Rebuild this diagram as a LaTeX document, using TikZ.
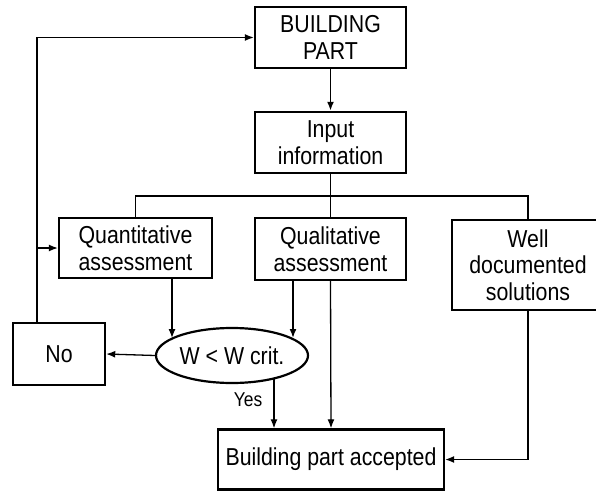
\documentclass[tikz,border=0pt]{standalone}
\usepackage{fontspec}
\setmainfont{Liberation Sans}[FakeStretch=0.87]
\usetikzlibrary{arrows.meta,shapes.geometric}

\begin{document}
\begin{tikzpicture}[x=1pt,y=-1pt,
  box/.style={draw,line width=2.4pt,inner sep=0pt,align=center,
    font=\fontsize{24.5}{26.5}\selectfont},
  decision/.style={ellipse,draw,line width=2.2pt,inner sep=0pt,
    font=\fontsize{24.5}{26.5}\selectfont},
  link/.style={line width=1.3pt},
  arr/.style={link,-{Latex[length=9pt,width=7pt]}},
  tag/.style={inner sep=0pt,font=\fontsize{20}{22}\selectfont}
]
\useasboundingbox[fill=white] (0,0) rectangle (596,492);

% boxes
\node[box,minimum width=151pt,minimum height=61pt] (bp) at (330.5,37.5) {BUILDING\\PART};
\node[box,minimum width=151pt,minimum height=61pt] (inp) at (330.5,142.5) {Input\\information};
\node[box,minimum width=153pt,minimum height=60pt] (quant) at (135.5,248) {Quantitative\\assessment};
\node[box,minimum width=151pt,minimum height=62pt] (qual) at (330.5,249) {Qualitative\\assessment};
\node[box,minimum width=152pt,minimum height=90pt] (well) at (528,265) {Well\\documented\\solutions};
\node[box,minimum width=92pt,minimum height=62pt] (no) at (59,354) {No};
\node[decision,minimum width=152pt,minimum height=55pt] (ell) at (232,355.5) {W < W crit.};
\node[box,minimum width=226pt,minimum height=60pt] (acc) at (331,459.5) {Building part accepted};

% helper positions for off-centre connectors
\coordinate (fbx) at (37,0);
\coordinate (qnx) at (172,0);
\coordinate (qlx) at (293,0);
\coordinate (ysx) at (274,0);
\coordinate (bus) at (330.5,196);

% main flow
\draw[arr,line width=1.8pt] (bp.south) -- (inp.north);
\draw[link,line width=1.6pt] (inp.south) -- (qual.north);
\draw[link,line width=1.6pt] (quant.north) |- (bus) -| (well.north);

% to the decision
\draw[arr] (qnx |- quant.south) -- (qnx |- ell.164);
\draw[arr,line width=1.7pt] (qlx |- qual.south) -- (qlx |- ell.16);
\draw[arr] (ell.west) -- (no.east);

% acceptance paths
\draw[arr] (ysx |- ell.-29) -- (ysx |- acc.north);
\node[tag] (yes) at (248,400) {Yes};
\draw[arr] (qual.south) -- (acc.north);
\draw[arr] (well.south) |- (acc.east);

% feedback loop
\draw[arr] (fbx |- no.north) |- (bp.west);
\draw[arr] (fbx |- quant.west) -- (quant.west);
\end{tikzpicture}
\end{document}
